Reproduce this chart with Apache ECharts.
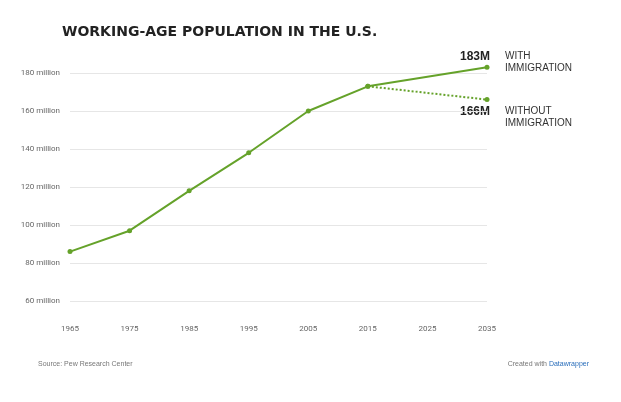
<!DOCTYPE html>
<html>
<head>
<meta charset="utf-8">
<script src="https://cdn.jsdelivr.net/npm/echarts@6/dist/echarts.min.js"></script>
<style>html,body{margin:0;background:#fff}</style>
</head>
<body>
<div id="main" style="width:621px;height:402px;"></div>
<script>
var years = ['1965', '1975', '1985', '1995', '2005', '2015', '2025', '2035'];
var withImmigration = [86, 97, 118, 138, 160, 173, null, 183];
var withoutImmigration = [null, null, null, null, null, 173, null, 166];
var yTicks = [60, 80, 100, 120, 140, 160, 180];

var green = '#65a22a';
var myChart = echarts.init(document.getElementById('main'));

option = {
    animation: false,
    textStyle: { fontFamily: 'Roboto' },
    grid: { left: 70, right: 134, top: 73, bottom: 101 },
    xAxis: {
        type: 'category',
        data: years,
        boundaryGap: false,
        axisLine: { show: false },
        axisTick: { show: false },
        axisLabel: { color: '#666', fontSize: 8, margin: 24 }
    },
    yAxis: {
        type: 'value',
        min: yTicks[0],
        max: yTicks[yTicks.length - 1],
        interval: 20,
        axisLabel: { color: '#666', fontSize: 8, margin: 10, formatter: '{value} million' },
        splitLine: { lineStyle: { color: '#e6e6e6' } }
    },
    series: [
        {
            name: 'With immigration',
            type: 'line',
            data: withImmigration,
            connectNulls: true,
            clip: false,
            symbol: 'circle',
            symbolSize: 5,
            lineStyle: { color: green, width: 2 },
            itemStyle: { color: green }
        },
        {
            name: 'Without immigration',
            type: 'line',
            data: withoutImmigration,
            connectNulls: true,
            clip: false,
            symbol: 'circle',
            symbolSize: 5,
            lineStyle: { color: green, width: 2, type: 'dotted' },
            itemStyle: { color: green }
        }
    ],
    graphic: [
        { type: 'text', left: 62, top: 25, style: { text: 'WORKING-AGE POPULATION IN THE U.S.', fontSize: 14, fontWeight: 'bold', fill: '#222', fontFamily: 'DejaVu Sans' } },
        { type: 'text', left: 460, top: 51, style: { text: '183M', fontSize: 12, fontWeight: 'bold', fill: '#222' } },
        { type: 'text', left: 505, top: 50, style: { text: 'WITH\nIMMIGRATION', fontSize: 10, fill: '#333', lineHeight: 12 } },
        { type: 'text', left: 460, top: 106, style: { text: '166M', fontSize: 12, fontWeight: 'bold', fill: '#222' } },
        { type: 'text', left: 505, top: 105, style: { text: 'WITHOUT\nIMMIGRATION', fontSize: 10, fill: '#333', lineHeight: 12 } },
        { type: 'text', left: 38, top: 361, style: { text: 'Source: Pew Research Center', fontSize: 7, fill: '#777' } },
        { type: 'text', right: 32, top: 361, style: { text: '{a|Created with }{b|Datawrapper}', rich: { a: { fontSize: 7, fill: '#777' }, b: { fontSize: 7, fill: '#2a6ebb', textDecoration: 'underline' } } } }
    ]
};

myChart.setOption(option);
</script>
</body>
</html>
